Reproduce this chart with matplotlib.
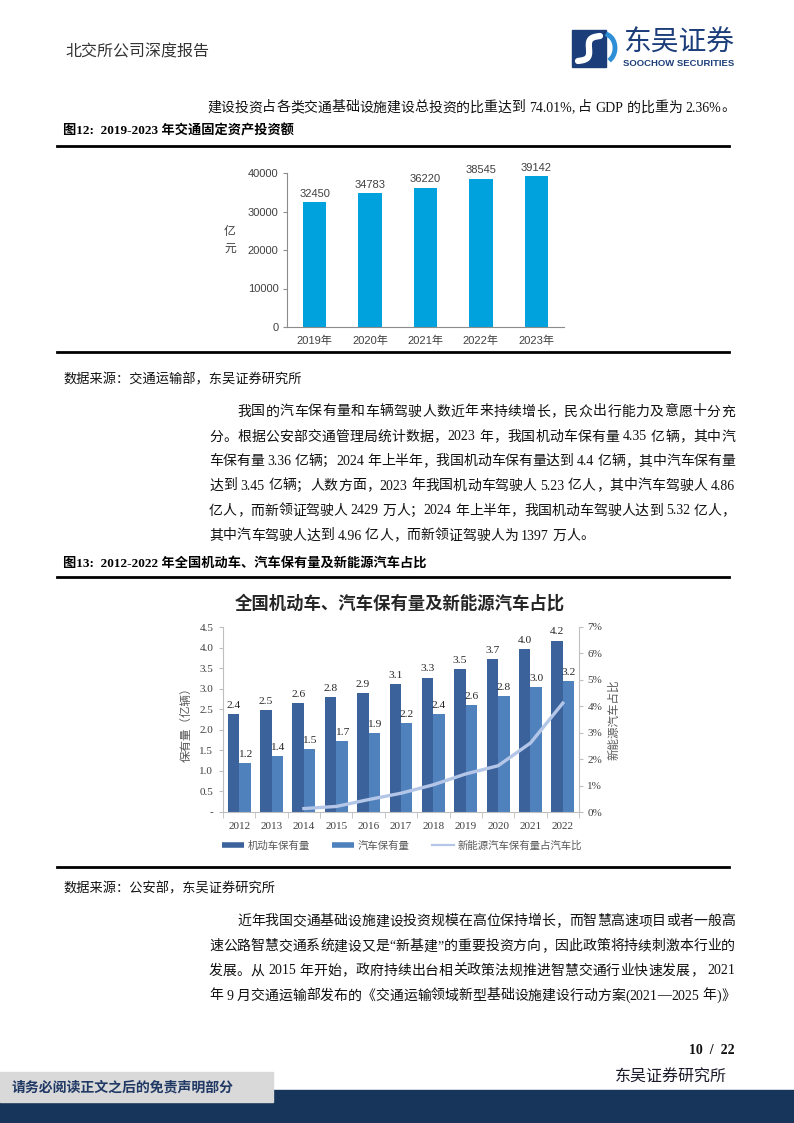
import re
import matplotlib
matplotlib.use("Agg")
import matplotlib.pyplot as plt
import numpy as np
from matplotlib.patches import Rectangle
from matplotlib.lines import Line2D
from matplotlib.ticker import FixedLocator, FuncFormatter

W, H = 794, 1123

# 图12 data
invest_years = ["2019年", "2020年", "2021年", "2022年", "2023年"]
invest_values = [32450, 34783, 36220, 38545, 39142]

# 图13 data
fleet_years = ["2012", "2013", "2014", "2015", "2016", "2017",
               "2018", "2019", "2020", "2021", "2022"]
motor_fleet = [2.39, 2.49, 2.64, 2.80, 2.89, 3.11, 3.27, 3.48, 3.72, 3.96, 4.17]
car_fleet = [1.19, 1.37, 1.53, 1.72, 1.93, 2.17, 2.39, 2.60, 2.81, 3.03, 3.19]
nev_share = [np.nan, np.nan, 0.13, 0.21, 0.47, 0.71, 1.03, 1.44, 1.75, 2.61, 4.12]

para1 = [
    "我国的汽车保有量和车辆驾驶人数近年来持续增长，民众出行能力及意愿十分充",
    "分。根据公安部交通管理局统计数据，2023 年，我国机动车保有量 4.35 亿辆，其中汽",
    "车保有量 3.36 亿辆；2024 年上半年，我国机动车保有量达到 4.4 亿辆，其中汽车保有量",
    "达到 3.45 亿辆；人数方面，2023 年我国机动车驾驶人 5.23 亿人，其中汽车驾驶人 4.86",
    "亿人，而新领证驾驶人 2429 万人；2024 年上半年，我国机动车驾驶人达到 5.32 亿人，",
    "其中汽车驾驶人达到 4.96 亿人，而新领证驾驶人为 1397 万人。",
]
para2 = [
    "近年我国交通基础设施建设投资规模在高位保持增长，而智慧高速项目或者一般高",
    "速公路智慧交通系统建设又是“新基建”的重要投资方向，因此政策将持续刺激本行业的",
    "发展。从 2015 年开始，政府持续出台相关政策法规推进智慧交通行业快速发展， 2021",
    "年 9 月交通运输部发布的《交通运输领域新型基础设施建设行动方案(2021—2025 年)》",
]

SERIF = ["Liberation Serif", "Noto Sans CJK SC"]
SANS = ["Liberation Sans", "Noto Sans CJK SC"]
CJK = ["Noto Sans CJK SC", "DejaVu Sans"]
NAVY = "#1B3E7A"
DARK_BAR = "#3B629B"
CAR_BAR = "#4F81BD"
NEV_LINE = "#B4C6E7"

fig = plt.figure(figsize=(W / 100, H / 100), dpi=100)
page = fig.add_axes([0, 0, 1, 1])
page.set_xlim(0, W)
page.set_ylim(H, 0)
page.axis("off")
renderer = fig.canvas.get_renderer()


def put_line(s, x0, y, x1=None, size=10, color="#111111"):
    """Draw one body line; spread the tokens so it fills x0..x1 when x1 given."""
    toks = re.findall(r"[0-9A-Za-z.%]+| |.", s)
    arts = []
    for t in toks:
        if t == " ":
            arts.append(None)
            continue
        arts.append(page.text(0, y, t, fontsize=size, family=SERIF,
                              va="center", ha="left", color=color))
    widths = [size * 0.25 * 100 / 72 if a is None else a.get_window_extent(renderer).width
              for a in arts]
    gap = 0.0
    if x1 is not None and len(toks) > 1:
        gap = (x1 - x0 - sum(widths)) / (len(toks) - 1)
    x = x0
    for a, w in zip(arts, widths):
        if a is not None:
            a.set_x(x)
        x += w + gap


# header and logo
page.text(65, 52, "北交所公司深度报告", fontsize=11.5, family=CJK, va="center", color="#333333")
page.add_patch(Rectangle((572, 30), 34, 37, color=NAVY, zorder=2))
t = np.linspace(0, 1, 60)
page.plot(578 + 22 * t + 4 * np.sin(2 * np.pi * t), 61 - 25 * t + 3 * np.sin(2 * np.pi * t),
          color="white", lw=4.5, solid_capstyle="round", zorder=3)
ang = np.linspace(-0.9, 1.2, 40)
page.plot(604 + 11 * np.cos(ang), 48 - 14 * np.sin(ang), color="#2E8FD6", lw=3.5, zorder=3)
page.text(623, 43, "东吴证券", fontsize=20, family=CJK, va="center", color=NAVY)
page.text(623, 63.5, "SOOCHOW SECURITIES", fontsize=6.8, family=["Liberation Sans"],
          weight="bold", va="center", color=NAVY)

put_line("建设投资占各类交通基础设施建设总投资的比重达到 74.01%, 占 GDP 的比重为 2.36%。",
         207, 108, 735)

# 图12
page.text(63, 131, "图12:  2019-2023 年交通固定资产投资额", fontsize=9.5, family=SERIF,
          weight="bold", va="center")
page.plot([57, 729], [146, 146], color="black", lw=2)
page.plot([57, 729], [352, 352], color="black", lw=2)

ax1 = fig.add_axes([287 / W, 1 - 327 / H, (564 - 287) / W, (327 - 173) / H])
x1 = np.arange(len(invest_years))
ax1.bar(x1, invest_values, width=0.42, color="#00A2DE")
for xi, v in zip(x1, invest_values):
    ax1.text(xi, v + 900, f"{v}", ha="center", va="bottom", fontsize=8,
             family=SANS, color="#404040")
ax1.set_xlim(-0.5, len(invest_years) - 0.5)
ax1.set_ylim(0, 40000)
ax1.set_yticks([0, 10000, 20000, 30000, 40000])
ax1.set_xticks(x1)
ax1.set_xticklabels(invest_years, family=SANS, fontsize=8, color="#404040")
for lab in ax1.get_yticklabels():
    lab.set_family(SANS)
    lab.set_fontsize(8)
    lab.set_color("#404040")
ax1.tick_params(axis="x", length=0, pad=6)
ax1.tick_params(axis="y", length=3, color="#8C8C8C", pad=3)
for s in ["top", "right"]:
    ax1.spines[s].set_visible(False)
for s in ["left", "bottom"]:
    ax1.spines[s].set_color("#8C8C8C")
    ax1.spines[s].set_linewidth(0.8)
ax1.patch.set_alpha(0)
page.text(230, 240, "亿\n元", fontsize=8.5, family=CJK, ha="center", va="center",
          color="#404040", linespacing=1.3)

page.text(63, 380, "数据来源：交通运输部，东吴证券研究所", fontsize=9.5, family=CJK,
          va="center", color="#111111")

ys1 = [412, 437, 461.5, 486, 511, 536]
for i, (s, y) in enumerate(zip(para1, ys1)):
    x0 = 237 if i == 0 else 209
    put_line(s, x0, y, None if i == len(para1) - 1 else 735)

# 图13
page.text(63, 563, "图13:  2012-2022 年全国机动车、汽车保有量及新能源汽车占比", fontsize=9.5,
          family=SERIF, weight="bold", va="center")
page.plot([57, 729], [577, 577], color="black", lw=2)
page.plot([57, 729], [867, 867], color="black", lw=2)
page.text(400, 604, "全国机动车、汽车保有量及新能源汽车占比", fontsize=12.5, family=CJK,
          weight="bold", ha="center", va="center", color="#262626")

ax2 = fig.add_axes([223 / W, 1 - 812 / H, (579 - 223) / W, (812 - 627) / H])
x2 = np.arange(len(fleet_years))
bw = 0.355
ax2.bar(x2 - bw / 2, motor_fleet, width=bw, color=DARK_BAR)
ax2.bar(x2 + bw / 2, car_fleet, width=bw, color=CAR_BAR)
for xi, a, c in zip(x2, motor_fleet, car_fleet):
    ax2.text(xi - bw / 2, a + 0.1, f"{a:.1f}", ha="center", va="bottom", fontsize=8.2,
             family=SERIF, color="#262626")
    ax2.text(xi + bw / 2, c + 0.1, f"{c:.1f}", ha="center", va="bottom", fontsize=8.2,
             family=SERIF, color="#262626")
ax2.set_xlim(-0.5, len(fleet_years) - 0.5)
ax2.set_ylim(0, 4.5)
ax2.set_yticks(np.arange(0, 4.51, 0.5))
ax2.yaxis.set_major_formatter(FuncFormatter(lambda v, p: "-" if abs(v) < 1e-9 else f"{v:.1f}"))
ax2.set_xticks(x2)
ax2.set_xticklabels(fleet_years)
ax2.xaxis.set_minor_locator(FixedLocator(np.arange(-0.5, len(fleet_years), 1.0)))
ax2.tick_params(axis="x", which="major", length=0, pad=7)
ax2.tick_params(axis="x", which="minor", length=4, color="#BFBFBF")
ax2.tick_params(axis="y", length=3, color="#BFBFBF", pad=4)
for lab in ax2.get_xticklabels() + ax2.get_yticklabels():
    lab.set_family(SERIF)
    lab.set_fontsize(8)
    lab.set_color("#404040")
for s in ["top", "right"]:
    ax2.spines[s].set_visible(False)
for s in ["left", "bottom"]:
    ax2.spines[s].set_color("#BFBFBF")

ax3 = ax2.twinx()
ax3.plot(x2, nev_share, color=NEV_LINE, lw=2.4)
ax3.set_ylim(0, 7)
ax3.set_yticks(np.arange(0, 7.1, 1))
ax3.yaxis.set_major_formatter(FuncFormatter(lambda v, p: f"{v:.0f}%"))
ax3.tick_params(axis="y", length=3, color="#BFBFBF", pad=3)
for lab in ax3.get_yticklabels():
    lab.set_family(SERIF)
    lab.set_fontsize(8)
    lab.set_color("#404040")
for s in ["top", "left", "bottom"]:
    ax3.spines[s].set_visible(False)
ax3.spines["right"].set_color("#BFBFBF")

page.text(186, 722, "保有量（亿辆）", fontsize=8.3, family=CJK, rotation=90,
          ha="center", va="center", color="#595959")
page.text(614, 720, "新能源汽车占比", fontsize=8.3, family=CJK, rotation=90,
          ha="center", va="center", color="#595959")

handles = [Line2D([], [], color=DARK_BAR, lw=4, solid_capstyle="butt"),
           Line2D([], [], color=CAR_BAR, lw=4, solid_capstyle="butt"),
           Line2D([], [], color=NEV_LINE, lw=1.6)]
leg = fig.legend(handles, ["机动车保有量", "汽车保有量", "新能源汽车保有量占汽车比"],
                 loc="center", bbox_to_anchor=(402 / W, 1 - 846 / H), ncol=3,
                 frameon=False, handlelength=2.1, handletextpad=0.3, columnspacing=2.2,
                 prop={"family": CJK, "size": 7.5})
for txt in leg.get_texts():
    txt.set_color("#595959")

page.text(63, 889, "数据来源：公安部，东吴证券研究所", fontsize=9.5, family=CJK,
          va="center", color="#111111")

ys2 = [921.5, 946.5, 971, 996]
for i, (s, y) in enumerate(zip(para2, ys2)):
    x0 = 237 if i == 0 else 209
    put_line(s, x0, y, 735)

# footer
page.text(735, 1050, "10  /  22", fontsize=10, family=SERIF, weight="bold",
          ha="right", va="center", color="#111111")
page.text(727, 1077, "东吴证券研究所", fontsize=11.5, family=CJK, ha="right",
          va="center", color="#1a1a2a")
page.add_patch(Rectangle((0, 1090), W, 32, color="#17355B", zorder=1))
page.add_patch(Rectangle((0, 1072), 273, 30, color="#D9D9D9", zorder=2))
page.text(12, 1087, "请务必阅读正文之后的免责声明部分", fontsize=10, family=CJK,
          weight="bold", va="center", color="#1F3864", zorder=3)

fig.savefig("out.png", dpi=100)
